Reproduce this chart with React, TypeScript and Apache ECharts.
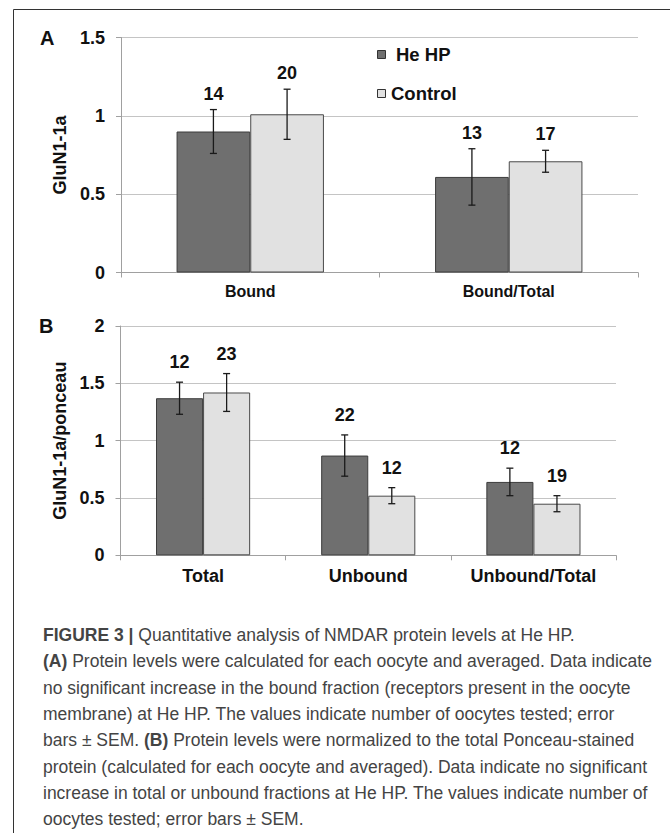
import React, { useEffect, useRef } from "react";
import * as echarts from "echarts";

// Panel A data
const categoriesA = ["Bound", "Bound/Total"];
const heHpA = [0.9, 0.61];
const heHpSemA = [0.14, 0.18];
const controlA = [1.01, 0.71];
const controlSemA = [0.16, 0.07];
const heHpNA = [14, 13];
const controlNA = [20, 17];

// Panel B data
const categoriesB = ["Total", "Unbound", "Unbound/Total"];
const heHpB = [1.37, 0.87, 0.64];
const heHpSemB = [0.14, 0.18, 0.12];
const controlB = [1.42, 0.52, 0.45];
const controlSemB = [0.165, 0.07, 0.07];
const heHpNB = [12, 22, 12];
const controlNB = [23, 12, 19];

const yTicksA = { min: 0, max: 1.5, interval: 0.5 };
const yTicksB = { min: 0, max: 2, interval: 0.5 };

const seriesNames = ["He HP", "Control"];

const captionLines = [
  "{b|FIGURE 3 |} Quantitative analysis of NMDAR protein levels at He HP.",
  "{b|(A)} Protein levels were calculated for each oocyte and averaged. Data indicate",
  "no significant increase in the bound fraction (receptors present in the oocyte",
  "membrane) at He HP. The values indicate number of oocytes tested; error",
  "bars \u00b1 SEM. {b|(B)} Protein levels were normalized to the total Ponceau-stained",
  "protein (calculated for each oocyte and averaged). Data indicate no significant",
  "increase in total or unbound fractions at He HP. The values indicate number of",
  "oocytes tested; error bars \u00b1 SEM.",
];

const FONT = '"Liberation Sans", Arial, sans-serif';
const DARK = "#6f6f6f";
const LIGHT = "#e1e1e1";
const GAP = 0.43;

function errData(means: number[], sems: number[], ns: number[], side: number) {
  return means.map((m, i) => [i, m, sems[i], ns[i], side]);
}

function makeRenderItem(labelOffset: number) {
  return (params: any, api: any) => {
    const cat = api.value(0);
    const mean = api.value(1);
    const sem = api.value(2);
    const n = api.value(3);
    const side = api.value(4);
    const band = api.size([1, 0])[0];
    const bw = (band * (1 - GAP)) / 2;
    const cx = api.coord([cat, 0])[0] + (side === 0 ? -bw / 2 : bw / 2);
    const yTop = api.coord([cat, mean + sem])[1];
    const yBot = api.coord([cat, mean - sem])[1];
    const st = { stroke: "#1a1a1a", lineWidth: 1.3 };
    return {
      type: "group",
      children: [
        { type: "line", shape: { x1: cx, y1: yTop, x2: cx, y2: yBot }, style: st },
        { type: "line", shape: { x1: cx - 3.5, y1: yTop, x2: cx + 3.5, y2: yTop }, style: st },
        { type: "line", shape: { x1: cx - 3.5, y1: yBot, x2: cx + 3.5, y2: yBot }, style: st },
        {
          type: "text",
          x: cx,
          y: yTop - labelOffset,
          style: {
            text: String(n),
            fontFamily: FONT,
            fontWeight: "bold",
            fontSize: 18,
            fill: "#111",
            align: "center",
            verticalAlign: "middle",
          },
        },
      ],
    };
  };
}

function yAxisCfg(gridIndex: number, t: any, name: string, nameGap: number) {
  return {
    type: "value",
    gridIndex,
    min: t.min,
    max: t.max,
    interval: t.interval,
    name,
    nameLocation: "middle",
    nameGap,
    nameRotate: 90,
    nameTextStyle: { fontFamily: FONT, fontWeight: "bold", fontSize: 18, color: "#111" },
    axisLine: { show: true, lineStyle: { color: "#a0a0a0", width: 1 } },
    axisTick: { show: true, length: 5, lineStyle: { color: "#a0a0a0" } },
    axisLabel: { fontFamily: FONT, fontWeight: "bold", fontSize: 18, color: "#111", margin: 16 },
    splitLine: { show: true, lineStyle: { color: "#c4c4c4", width: 1 } },
  };
}

function xAxisCfg(gridIndex: number, cats: string[], fontSize: number, margin: number) {
  return {
    type: "category",
    gridIndex,
    data: cats,
    axisLine: { show: true, lineStyle: { color: "#a0a0a0", width: 1 } },
    axisTick: { show: true, length: 5, lineStyle: { color: "#a0a0a0" } },
    axisLabel: { fontFamily: FONT, fontWeight: "bold", fontSize, color: "#111", margin },
    splitLine: { show: false },
  };
}

function barSeries(name: string, data: number[], idx: number, color: string, border: string) {
  return {
    type: "bar",
    name,
    xAxisIndex: idx,
    yAxisIndex: idx,
    data,
    barGap: "0%",
    barCategoryGap: GAP * 100 + "%",
    itemStyle: { color, borderColor: border, borderWidth: 1 },
    z: 2,
  };
}

export default function App() {
  const ref = useRef<HTMLDivElement>(null);
  useEffect(() => {
    document.body.style.margin = "0";
    const chart = echarts.init(ref.current!, null, { renderer: "svg" });
    const option: any = {
      animation: false,
      backgroundColor: "#ffffff",
      grid: [
        { left: 121, top: 37.5, width: 517, height: 235 },
        { left: 120.5, top: 326, width: 495.5, height: 229.3 },
      ],
      xAxis: [xAxisCfg(0, categoriesA, 16, 11), xAxisCfg(1, categoriesB, 18, 12)],
      yAxis: [
        yAxisCfg(0, yTicksA, "GluN1-1a", 52),
        yAxisCfg(1, yTicksB, "GluN1-1a/ponceau", 45),
      ],
      series: [
        barSeries(seriesNames[0], heHpA, 0, DARK, "#3c3c3c"),
        barSeries(seriesNames[1], controlA, 0, LIGHT, "#4a4a4a"),
        barSeries(seriesNames[0], heHpB, 1, DARK, "#3c3c3c"),
        barSeries(seriesNames[1], controlB, 1, LIGHT, "#4a4a4a"),
        {
          type: "custom",
          xAxisIndex: 0,
          yAxisIndex: 0,
          renderItem: makeRenderItem(16),
          encode: { x: 0, y: 1 },
          data: [...errData(heHpA, heHpSemA, heHpNA, 0), ...errData(controlA, controlSemA, controlNA, 1)],
          z: 5,
        },
        {
          type: "custom",
          xAxisIndex: 1,
          yAxisIndex: 1,
          renderItem: makeRenderItem(20),
          encode: { x: 0, y: 1 },
          data: [...errData(heHpB, heHpSemB, heHpNB, 0), ...errData(controlB, controlSemB, controlNB, 1)],
          z: 5,
        },
      ],
      graphic: [
        {
          type: "polyline",
          shape: { points: [[13.5, 833], [13.5, 9.5], [670, 9.5]] },
          style: { stroke: "#333", lineWidth: 1, fill: null },
        },
        {
          type: "text",
          x: 40,
          y: 38,
          style: { text: "A", fontFamily: FONT, fontWeight: "bold", fontSize: 20, fill: "#111", verticalAlign: "middle" },
        },
        {
          type: "text",
          x: 39,
          y: 326,
          style: { text: "B", fontFamily: FONT, fontWeight: "bold", fontSize: 20, fill: "#111", verticalAlign: "middle" },
        },
        {
          type: "rect",
          shape: { x: 377.5, y: 50.5, width: 8, height: 8 },
          style: { fill: DARK, stroke: "#333", lineWidth: 1 },
        },
        {
          type: "text",
          x: 396,
          y: 54,
          style: { text: seriesNames[0], fontFamily: FONT, fontWeight: "bold", fontSize: 18.5, fill: "#111", verticalAlign: "middle" },
        },
        {
          type: "rect",
          shape: { x: 377.5, y: 89.5, width: 8, height: 8 },
          style: { fill: LIGHT, stroke: "#333", lineWidth: 1 },
        },
        {
          type: "text",
          x: 391,
          y: 93.5,
          style: { text: seriesNames[1], fontFamily: FONT, fontWeight: "bold", fontSize: 18.5, fill: "#111", verticalAlign: "middle" },
        },
        ...captionLines.map((line, i) => ({
          type: "text",
          x: 43,
          y: 635 + i * 26.3,
          style: {
            text: line,
            fontFamily: FONT,
            fontSize: 17.5,
            fill: "#444",
            verticalAlign: "middle",
            rich: {
              b: { fontFamily: FONT, fontSize: 17.5, fontWeight: "bold", color: "#222" },
            },
          },
        })),
      ],
    };
    chart.setOption(option);
    return () => chart.dispose();
  }, []);
  return <div ref={ref} style={{ width: 670, height: 833 }} />;
}
